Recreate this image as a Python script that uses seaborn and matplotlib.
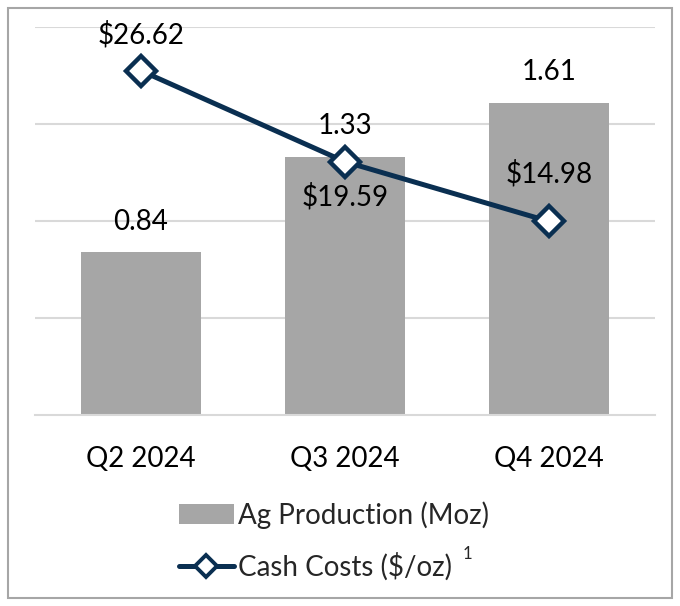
import matplotlib
matplotlib.use("Agg")
import matplotlib.pyplot as plt
import seaborn as sns
import pandas as pd
from matplotlib.lines import Line2D
from matplotlib.patches import Patch, Rectangle

quarters = ["Q2 2024", "Q3 2024", "Q4 2024"]
ag_production = [0.84, 1.33, 1.61]
cash_costs = [26.62, 19.59, 14.98]
bar_labels = ["0.84", "1.33", "1.61"]
cost_labels = ["$26.62", "$19.59", "$14.98"]

sns.set_theme(style="white")
plt.rcParams['font.family'] = ['Lato', 'DejaVu Sans']

BAR = "#A6A6A6"
LINE = "#0A2F51"
FS = 20

df = pd.DataFrame({"quarter": quarters, "ag": ag_production, "cost": cash_costs})

fig = plt.figure(figsize=(6.8, 6.06), dpi=100)
ax = fig.add_axes([0.0515, 0.315, 0.9115, 0.6404])
sns.barplot(data=df, x="quarter", y="ag", color=BAR, width=0.59, ax=ax, zorder=2)
for p in ax.patches:
    p.set_facecolor(BAR)
    p.set_edgecolor("none")
ax.set_ylim(0, 2.0)
ax.set_xlim(-0.52, 2.52)
ax.set_yticks([0.5, 1.0, 1.5, 2.0])
ax.yaxis.grid(True, color="#D9D9D9", linewidth=1.5, zorder=0)
ax.set_axisbelow(True)
ax.set_yticklabels([])
ax.set_xlabel("")
ax.set_ylabel("")
for s in ["top", "right", "left"]:
    ax.spines[s].set_visible(False)
ax.spines["bottom"].set_color("#D9D9D9")
ax.spines["bottom"].set_linewidth(1.5)
ax.tick_params(axis="x", length=0, pad=22, labelsize=FS, labelcolor="black")
ax.tick_params(axis="y", length=0)

for i, (v, lab) in enumerate(zip(ag_production, bar_labels)):
    ax.annotate(lab, (i, v), xytext=(0, 22), textcoords="offset points",
                ha="center", va="center", fontsize=FS, color="black")

ax2 = ax.twinx()
sns.lineplot(data=df, x="quarter", y="cost", ax=ax2, color=LINE, linewidth=3.6,
             marker="D", markersize=15, markerfacecolor="white",
             markeredgecolor=LINE, markeredgewidth=3.2, zorder=5)
ax2.set_ylim(0, 30)
ax2.set_axis_off()
offsets = [26, -25, 34]
for i, (v, lab, off) in enumerate(zip(cash_costs, cost_labels, offsets)):
    ax2.annotate(lab, (i, v), xytext=(0, off), textcoords="offset points",
                 ha="center", va="center", fontsize=FS, color="black",
                 annotation_clip=False)

handles = [Patch(facecolor=BAR, edgecolor="none"),
           Line2D([0], [0], color=LINE, linewidth=3.6, marker="D", markersize=11,
                  markerfacecolor="white", markeredgecolor=LINE, markeredgewidth=2.8)]
leg = fig.legend(handles, ["Ag Production (Moz)", "Cash Costs ($/oz)"],
                 loc="upper left", bbox_to_anchor=(0.263, 0.1733), frameon=False,
                 fontsize=FS, handlelength=1.98, handletextpad=0.15, labelspacing=0.86,
                 borderaxespad=0, borderpad=0)
fig.text(0.688, 0.0858, "1", fontsize=12, ha="center", va="center")

fig.patches.append(Rectangle((0.012, 0.013), 0.976, 0.974, transform=fig.transFigure,
                             fill=False, edgecolor="#A6A6A6", linewidth=1.5))

fig.savefig("out.png", dpi=100)
